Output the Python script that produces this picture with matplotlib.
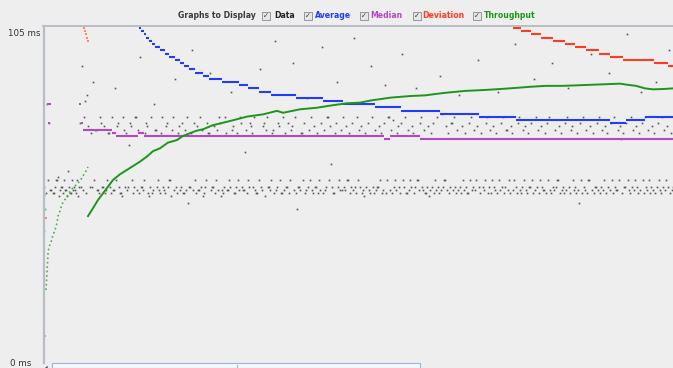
import numpy as np
import matplotlib.pyplot as plt
from matplotlib.patches import Rectangle
from matplotlib.lines import Line2D

# response time of each sample (ms), one per sample number 1..630
data_ms = [
    55, 350, 53, 81, 57, 75, 54, 54, 640, 53, 53, 55, 57, 57, 58, 52, 54, 55, 55, 53, 57, 54, 54, 52, 60, 55, 53, 53, 57, 54,
    55, 54, 53, 57, 52, 55, 75, 55, 93, 54, 77, 82, 53, 84, 74, 2500, 55, 72, 55, 88, 57, 73, 73, 54, 54, 53, 77, 75, 55, 55,
    74, 53, 54, 57, 72, 72, 55, 53, 77, 54, 54, 86, 57, 74, 75, 55, 53, 53, 52, 77, 73, 55, 72, 54, 55, 68, 75, 74, 57, 53,
    55, 77, 77, 54, 73, 53, 96, 55, 55, 54, 57, 72, 75, 74, 53, 52, 55, 77, 53, 54, 81, 73, 73, 55, 57, 54, 53, 72, 77, 55,
    54, 53, 74, 75, 55, 57, 57, 52, 73, 77, 54, 89, 55, 53, 72, 74, 54, 55, 75, 53, 53, 73, 54, 77, 50, 55, 55, 72, 98, 54,
    75, 57, 53, 74, 54, 54, 77, 55, 73, 52, 53, 55, 57, 75, 72, 72, 91, 54, 55, 55, 74, 53, 57, 73, 54, 77, 75, 52, 54, 53,
    55, 77, 72, 54, 54, 57, 55, 85, 73, 74, 53, 53, 55, 72, 57, 54, 77, 75, 55, 54, 54, 66, 73, 53, 57, 55, 75, 74, 72, 55,
    77, 54, 53, 53, 380, 57, 92, 55, 54, 74, 75, 52, 73, 77, 55, 55, 54, 57, 72, 73, 53, 101, 54, 55, 75, 74, 57, 53, 53, 77,
    54, 72, 55, 55, 75, 53, 57, 73, 74, 94, 54, 77, 53, 48, 55, 55, 54, 72, 72, 57, 75, 53, 54, 83, 55, 73, 57, 77, 54, 53,
    74, 55, 55, 72, 53, 57, 54, 75, 99, 53, 73, 54, 55, 77, 77, 57, 74, 62, 55, 53, 53, 72, 75, 88, 55, 57, 54, 73, 54, 77,
    55, 54, 74, 57, 57, 72, 53, 55, 75, 54, 102, 55, 53, 77, 57, 73, 55, 74, 53, 54, 52, 72, 55, 310, 75, 54, 53, 93, 77, 55,
    53, 73, 54, 55, 55, 74, 57, 72, 53, 54, 75, 87, 53, 57, 77, 77, 54, 73, 53, 76, 55, 57, 54, 72, 74, 55, 53, 75, 97, 57,
    55, 77, 53, 53, 73, 54, 57, 55, 74, 72, 53, 55, 86, 57, 57, 54, 75, 77, 55, 54, 73, 53, 53, 55, 74, 52, 54, 72, 55, 75,
    53, 57, 54, 77, 55, 53, 90, 54, 78, 55, 57, 57, 74, 54, 72, 53, 55, 75, 75, 54, 77, 55, 53, 73, 54, 84, 55, 53, 74, 57,
    54, 72, 55, 53, 53, 75, 57, 77, 54, 55, 73, 54, 57, 74, 95, 55, 53, 72, 650, 55, 54, 57, 75, 77, 53, 55, 73, 53, 57, 74,
    55, 54, 72, 53, 85, 57, 54, 75, 55, 77, 53, 55, 73, 73, 54, 57, 53, 74, 72, 54, 57, 100, 55, 53, 75, 77, 54, 53, 55, 73,
    57, 74, 54, 53, 72, 55, 55, 75, 57, 53, 89, 54, 77, 55, 73, 53, 57, 74, 55, 54, 54, 72, 53, 75, 57, 77, 54, 53, 94, 55,
    54, 73, 55, 57, 57, 74, 53, 72, 54, 55, 53, 75, 54, 77, 86, 55, 53, 73, 74, 57, 54, 55, 53, 72, 54, 50, 75, 57, 53, 77,
    55, 54, 73, 53, 57, 57, 74, 97, 54, 72, 53, 55, 55, 75, 54, 77, 53, 55, 73, 54, 57, 74, 53, 72, 55, 91, 54, 75, 57, 53,
    77, 55, 54, 54, 73, 57, 74, 70, 53, 72, 55, 55, 75, 103, 57, 54, 53, 77, 55, 73, 54, 57, 74, 55, 53, 72, 54, 85, 75, 57,
    53, 77, 55, 54, 73, 57, 53, 55, 74, 54, 72, 53, 88, 55, 75, 57, 54, 53, 77, 55, 73, 54, 57, 74, 55, 98, 53, 72, 54, 55,
]

# average: sample where each level starts, and level (ms)
avg_start = [96, 98, 101, 103, 106, 109, 112, 117, 122, 126, 132, 137, 141, 146, 152, 160, 166,
             179, 196, 205, 216, 228, 253, 280, 300, 332, 358, 397, 436, 473, 567, 583, 602]
avg_val = [105, 104, 103, 102, 101, 100, 99, 98, 97, 96, 95, 94, 93, 92, 91, 90, 89,
           88, 87, 86, 85, 84, 83, 82, 81, 80, 79, 78, 77, 76, 75, 76, 77]

# median
med_start = [40, 69, 73, 95, 101, 341, 347, 377]
med_val = [73, 72, 71, 72, 71, 70, 71, 70]
med_dot_s = [5, 7, 37, 6, 39]
med_dot_v = [81, 81, 81, 75, 75]

# deviation
dev_start = [470, 478, 488, 498, 510, 522, 532, 543, 556, 567, 580, 611, 625]
dev_val = [105, 104, 103, 102, 101, 100, 99, 98, 97, 96, 95, 94, 93]
dev_dot_s = [2, 3, 41, 42, 43, 44, 45]
dev_dot_v = [8, 45, 105, 104, 103, 102, 101]

# throughput (drawn on the same scale)
tp1_s = [3, 4, 5, 6, 8, 10, 12, 14, 15, 17, 19, 23, 26, 29, 33, 37, 40, 43, 45]
tp1_v = [22.4, 28.1, 33.8, 36.0, 37.5, 39.7, 41.3, 43.5, 45.7, 47.3, 49.5, 51.4, 53.0, 54.3,
         55.5, 56.8, 58.4, 59.9, 61.2]
tp_dot_s = [1, 1, 2]
tp_dot_v = [52.4, 41.0, 48.0]
tp2_s = [45, 50, 55, 60, 65, 70, 77, 84, 90, 97, 104, 110, 117, 125, 134, 140, 153, 160, 170,
         187, 204, 220, 234, 240, 257, 274, 290, 304, 317, 328, 348, 368, 382, 402, 422, 442,
         462, 475, 487, 503, 520, 537, 553, 570, 577, 583, 593, 602, 610, 620, 630]
tp2_v = [45.7, 48.2, 50.8, 52.9, 55.0, 57.1, 58.9, 60.3, 61.5, 62.9, 64.5, 66.2, 67.1, 68.9,
         69.7, 71.0, 72.6, 73.1, 74.4, 75.7, 77.1, 77.8, 78.9, 78.3, 79.4, 79.9, 80.7, 81.3,
         81.5, 82.2, 83.1, 83.6, 83.8, 84.6, 85.2, 85.5, 85.9, 86.2, 86.5, 86.8, 86.8, 87.0,
         87.2, 87.4, 87.5, 87.2, 86.8, 86.0, 85.7, 85.8, 86.0]

n_samples = 630
y_max = 105.68

W, H = 673, 368
BG = "#eeeeee"
BLUE = "#1f3cff"
MAG = "#b447c4"
RED = "#ff3a22"
GREEN = "#1b961b"

fig = plt.figure(figsize=(W / 100, H / 100), dpi=100)
fig.patch.set_facecolor(BG)


def fx(x):
    return x / W


def fy(y):
    return 1 - y / H


ax = fig.add_axes([fx(43), fy(361), 1 - fx(43), (361 - 26) / H])
ax.set_xlim(0, n_samples)
ax.set_ylim(0, y_max)
ax.set_axis_off()

# data points
xs = np.arange(1, len(data_ms) + 1)
ax.plot(xs, data_ms, ls="none", marker="s", ms=1.2, mew=0, color="#555555")


def steps(start, vals, color):
    ends = start[1:] + [n_samples]
    ax.hlines(vals, start, ends, color=color, lw=1.5)


steps(avg_start, avg_val, BLUE)
steps(med_start, med_val, MAG)
ax.plot(med_dot_s, med_dot_v, ls="none", marker="s", ms=1.5, mew=0, color=MAG)
steps(dev_start, dev_val, RED)
ax.plot(dev_dot_s, dev_dot_v, ls="none", marker="s", ms=1.5, mew=0, color="#ff8870")

ax.plot(tp1_s, tp1_v, ls=":", lw=1.2, color="#4cae4c")
ax.plot(tp_dot_s, tp_dot_v, ls="none", marker="s", ms=1.4, mew=0, color="#6cc06c")
ax.plot(tp2_s, tp2_v, lw=1.4, color=GREEN)

# frame of the graph panel
fig.add_artist(Line2D([fx(43), 1], [fy(26), fy(26)], color="#b0b6c0", lw=1.2))
fig.add_artist(Line2D([fx(43.5), fx(43.5)], [fy(26), fy(363)], color="#b8bec8", lw=1.6))

# scrollbar at the bottom
fig.add_artist(Rectangle((fx(52), 0), fx(420 - 52), 5 / H, facecolor="#f6f8fb",
                         edgecolor="#9cb4d8", lw=0.8))
fig.add_artist(Line2D([fx(237), fx(237)], [0, fy(364.5)], color="#9cb4d8", lw=0.8))
fig.text(fx(46), fy(366.5), "◂", fontsize=4, color="#555555", ha="center", va="center")

# y labels
fig.text(fx(8), fy(33.5), "105 ms", fontsize=6.3, color="#333333", va="center")
fig.text(fx(10), fy(367.5), "0 ms", fontsize=6.3, color="#333333", va="bottom")

# "Graphs to Display" row
fig.text(fx(178), fy(16), "Graphs to Display", fontsize=5.6, fontweight="bold",
         color="#3a3a3a", va="center")
boxes = [262, 304, 360, 413, 473]
labels = ["Data", "Average", "Median", "Deviation", "Throughput"]
label_x = [274, 315, 370, 422, 484]
label_c = ["#222222", BLUE, MAG, RED, GREEN]
for bx, lab, lx, lc in zip(boxes, labels, label_x, label_c):
    fig.add_artist(Rectangle((fx(bx), fy(20)), fx(8), 8 / H, facecolor="#e6e6e6",
                             edgecolor="#8a8a8a", lw=0.6))
    fig.text(fx(bx + 4), fy(16), "✓", fontsize=5, color="#333333", ha="center", va="center")
    fig.text(fx(lx), fy(16), lab, fontsize=5.6, fontweight="bold", color=lc, va="center")

fig.savefig("out.png", dpi=100, facecolor=BG)
